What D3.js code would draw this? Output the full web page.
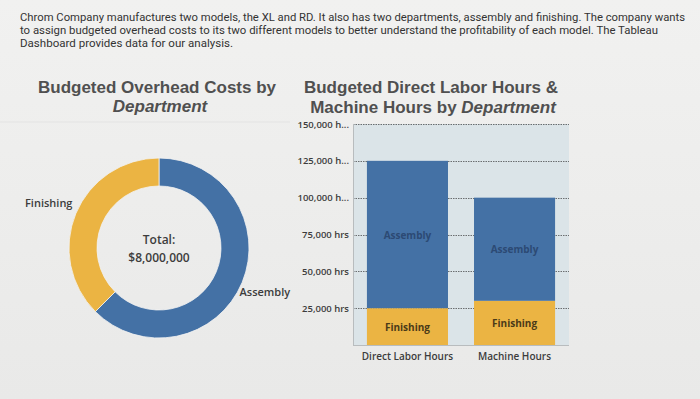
<!DOCTYPE html>
<html>
<head>
<meta charset="utf-8">
<script src="https://cdn.jsdelivr.net/npm/d3@7"></script>
<style>
  body { margin: 0; background: #eeeeee; }
  svg { display: block; }
</style>
</head>
<body>
<div id="chart"></div>
<script>
var width = 700, height = 399;

// Intro text
var introLines = [
    "Chrom Company manufactures two models, the XL and RD. It also has two departments, assembly and finishing. The company wants",
    "to assign budgeted overhead costs to its two different models to better understand the profitability of each model. The Tableau",
    "Dashboard provides data for our analysis."
];
var introWidths = [665, 638, 213];

// Donut data
var departments = ["Assembly", "Finishing"];
var overheadCosts = [5000000, 3000000];

// Bar data
var hourTypes = ["Direct Labor Hours", "Machine Hours"];
var assemblyHours = [100000, 70000];
var finishingHours = [25000, 30000];
var yTicks = [25000, 50000, 75000, 100000, 125000, 150000];

var blue = "#4471a5", gold = "#ebb443";

var svg = d3.select("#chart").append("svg")
    .attr("width", width)
    .attr("height", height);

var bg = svg.append("defs").append("linearGradient")
    .attr("id", "bg").attr("x1", 0).attr("y1", 0).attr("x2", 0).attr("y2", 1);
bg.append("stop").attr("offset", "0%").attr("stop-color", "#f1f1f0");
bg.append("stop").attr("offset", "100%").attr("stop-color", "#e9e9e8");
svg.append("rect").attr("width", width).attr("height", height).attr("fill", "url(#bg)");

svg.selectAll("text.intro")
    .data(introLines)
    .enter().append("text")
    .attr("class", "intro")
    .attr("x", 20)
    .attr("y", function (d, i) { return 21 + i * 13; })
    .attr("textLength", function (d, i) { return introWidths[i]; })
    .attr("lengthAdjust", "spacingAndGlyphs")
    .style("font-family", "Roboto, sans-serif")
    .style("font-size", "11px")
    .style("fill", "#333")
    .text(function (d) { return d; });

// faint separator under titles
svg.append("line")
    .attr("x1", 0).attr("x2", 290).attr("y1", 122).attr("y2", 122)
    .attr("stroke", "#e3e3e3").attr("stroke-width", 1);

// Titles
function title(g, x, y, plain, ital) {
    var t = g.append("text")
        .attr("x", x).attr("y", y)
        .attr("text-anchor", "middle")
        .style("font-family", "'Liberation Sans', Arial, sans-serif")
        .style("font-weight", "bold")
        .style("font-size", "17px")
        .style("fill", "#505050");
    t.append("tspan").text(plain);
    if (ital) t.append("tspan").style("font-style", "italic").text(ital);
}
title(svg, 157, 93, "Budgeted Overhead Costs by", null);
title(svg, 160, 112, "", "Department");
title(svg, 431, 93, "Budgeted Direct Labor Hours &", null);
title(svg, 433, 113, "Machine Hours by ", "Department");

// Donut
var cx = 159, cy = 248, rOuter = 90, rInner = 62;
var pie = d3.pie().sort(null)(overheadCosts);
var arc = d3.arc().innerRadius(rInner).outerRadius(rOuter);
var donut = svg.append("g").attr("transform", "translate(" + cx + "," + cy + ")");

donut.selectAll("path")
    .data(pie)
    .enter().append("path")
    .attr("d", arc)
    .attr("fill", function (d, i) { return i == 0 ? blue : gold; })
    .attr("stroke", "#f3f3f3")
    .attr("stroke-width", 0.8);

var labelArc = d3.arc().innerRadius(rOuter + 8).outerRadius(rOuter + 8);
donut.selectAll("text.slice")
    .data(pie)
    .enter().append("text")
    .attr("class", "slice")
    .attr("x", function (d, i) { return labelArc.centroid(d)[0] + (i == 0 ? -10 : 4); })
    .attr("y", function (d, i) { return labelArc.centroid(d)[1] + (i == 0 ? 10 : -4); })
    .attr("text-anchor", function (d, i) { return i == 0 ? "start" : "end"; })
    .style("font-family", "'Open Sans', sans-serif")
    .style("font-weight", 600)
    .style("font-size", "11px")
    .style("fill", "#3c3c3c")
    .text(function (d, i) { return departments[i]; });

var total = d3.sum(overheadCosts);
donut.append("text")
    .attr("y", -4)
    .attr("text-anchor", "middle")
    .style("font-family", "'Open Sans', sans-serif")
    .style("font-weight", 600)
    .style("font-size", "12px")
    .style("fill", "#3c3c3c")
    .text("Total:");
donut.append("text")
    .attr("y", 14)
    .attr("text-anchor", "middle")
    .style("font-family", "'Open Sans', sans-serif")
    .style("font-weight", 600)
    .style("font-size", "12px")
    .style("fill", "#3c3c3c")
    .text(d3.format("$,")(total));

// Stacked bars
var plot = { left: 353, right: 569, top: 124, bottom: 345 };
var x = d3.scaleBand()
    .domain(hourTypes)
    .range([plot.left, plot.right])
    .paddingInner(0.243)
    .paddingOuter(0.13);
var y = d3.scaleLinear()
    .domain([0, 150000])
    .range([plot.bottom, plot.top]);

svg.append("rect")
    .attr("x", plot.left).attr("y", plot.top)
    .attr("width", plot.right - plot.left)
    .attr("height", plot.bottom - plot.top)
    .attr("fill", "#dbe4e8");

function fmtHrs(v) {
    var s = d3.format(",")(v) + " hrs";
    return s.length > 10 ? s.slice(0, 9) + "..." : s;
}

var yAxis = svg.append("g")
    .attr("transform", "translate(" + plot.left + ",0)")
    .call(d3.axisLeft(y).tickValues(yTicks).tickSize(0).tickPadding(4).tickFormat(fmtHrs));
yAxis.select(".domain").remove();
yAxis.selectAll("text")
    .style("font-family", "'Open Sans', sans-serif")
    .style("font-weight", 600)
    .style("font-size", "9.5px")
    .style("fill", "#3c3c3c");

svg.append("g")
    .selectAll("line")
    .data(yTicks)
    .enter().append("line")
    .attr("x1", plot.left).attr("x2", plot.right)
    .attr("y1", function (d) { return Math.round(y(d)) + 0.5; })
    .attr("y2", function (d) { return Math.round(y(d)) + 0.5; })
    .attr("stroke", "#6b6e70")
    .attr("stroke-width", 1)
    .attr("stroke-dasharray", "1.5,1");

var stacks = hourTypes.map(function (h, i) {
    return [
        { key: h, dept: "Finishing", y0: 0, y1: finishingHours[i] },
        { key: h, dept: "Assembly", y0: finishingHours[i], y1: finishingHours[i] + assemblyHours[i] }
    ];
});
var segs = [].concat.apply([], stacks);

svg.selectAll("rect.seg")
    .data(segs)
    .enter().append("rect")
    .attr("class", "seg")
    .attr("x", function (d) { return x(d.key); })
    .attr("width", x.bandwidth())
    .attr("y", function (d) { return y(d.y1); })
    .attr("height", function (d) { return y(d.y0) - y(d.y1); })
    .attr("fill", function (d) { return d.dept == "Assembly" ? blue : gold; });

svg.selectAll("text.seg")
    .data(segs)
    .enter().append("text")
    .attr("class", "seg")
    .attr("x", function (d) { return x(d.key) + x.bandwidth() / 2; })
    .attr("y", function (d) { return (y(d.y0) + y(d.y1)) / 2 + 4; })
    .attr("text-anchor", "middle")
    .style("font-family", "'Open Sans', sans-serif")
    .style("font-weight", 700)
    .style("font-size", "10px")
    .style("fill", function (d) { return d.dept == "Assembly" ? "#2c4a74" : "#4a3a18"; })
    .text(function (d) { return d.dept; });

// plot frame
svg.append("line")
    .attr("x1", plot.left + 0.5).attr("x2", plot.left + 0.5)
    .attr("y1", plot.top).attr("y2", plot.bottom)
    .attr("stroke", "#b8bcbe");
svg.append("line")
    .attr("x1", plot.left).attr("x2", plot.right)
    .attr("y1", plot.bottom + 0.5).attr("y2", plot.bottom + 0.5)
    .attr("stroke", "#b8bcbe");

svg.selectAll("text.xlab")
    .data(hourTypes)
    .enter().append("text")
    .attr("class", "xlab")
    .attr("x", function (d) { return x(d) + x.bandwidth() / 2; })
    .attr("y", 360)
    .attr("text-anchor", "middle")
    .style("font-family", "'Open Sans', sans-serif")
    .style("font-weight", 600)
    .style("font-size", "10px")
    .style("fill", "#3c3c3c")
    .text(function (d) { return d; });
</script>
</body>
</html>
